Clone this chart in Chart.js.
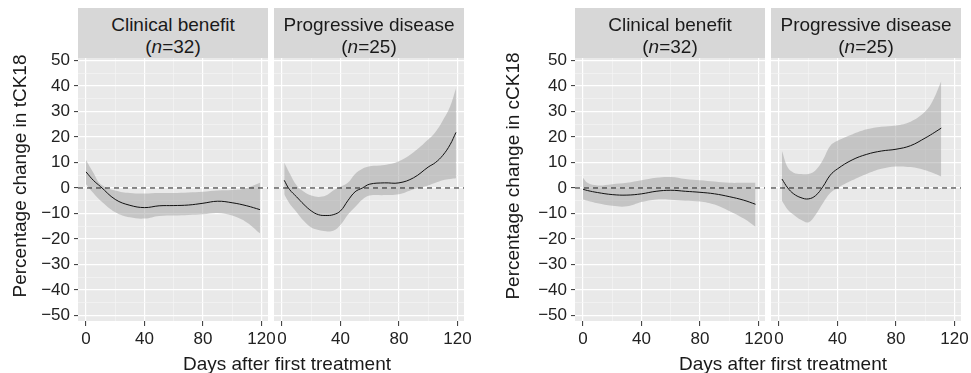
<!DOCTYPE html>
<html>
<head>
<meta charset="utf-8">
<script src="https://cdn.jsdelivr.net/npm/chart.js@4.4.1/dist/chart.umd.min.js"></script>
<style>
  body { margin: 0; background: #fff; font-family: "Liberation Sans", Arial, sans-serif; color: #1a1a1a; }
  #wrap { position: relative; width: 971px; height: 373px; overflow: hidden; }
  canvas { position: absolute; top: 0; }
  .strip { position: absolute; top: 8px; height: 50px; background: #d7d7d7; text-align: center;
           font-size: 19px; line-height: 22px; padding-top: 6px; box-sizing: border-box; }
  .xtitle { position: absolute; top: 353px; width: 300px; text-align: center; font-size: 19px; line-height: 22px; }
  .ytitle { position: absolute; width: 300px; height: 22px; line-height: 22px; text-align: center;
            font-size: 19px; transform: rotate(-90deg); }
</style>
</head>
<body>
<div id="wrap">
  <canvas id="tA"></canvas>
  <canvas id="tB"></canvas>
  <canvas id="cA"></canvas>
  <canvas id="cB"></canvas>

  <div class="strip" style="left:78px;width:190px">Clinical benefit<br>(<i>n</i>=32)</div>
  <div class="strip" style="left:274px;width:190px">Progressive disease<br>(<i>n</i>=25)</div>
  <div class="strip" style="left:575px;width:190px">Clinical benefit<br>(<i>n</i>=32)</div>
  <div class="strip" style="left:771px;width:190px">Progressive disease<br>(<i>n</i>=25)</div>

  <div class="ytitle" style="left:-130px;top:165px">Percentage change in tCK18</div>
  <div class="ytitle" style="left:363px;top:165px">Percentage change in cCK18</div>
  <div class="xtitle" style="left:137px">Days after first treatment</div>
  <div class="xtitle" style="left:633px">Days after first treatment</div>
</div>
<script>
// x axis: days after first treatment
const xMin = -5.5, xMax = 124.5;
const yMin = -52.2, yMax = 51;
const xTicks = [0, 20, 40, 60, 80, 100, 120];
const yTicks = [-50, -45, -40, -35, -30, -25, -20, -15, -10, -5, 0, 5, 10, 15, 20, 25, 30, 35, 40, 45, 50];

// tCK18, clinical benefit
const daysTA = [0, 5, 10, 20, 30, 40, 50, 60, 70, 80, 90, 100, 110, 119];
const fitTA  = [6.3, 3, 0.5, -4.5, -6.8, -7.7, -7, -6.9, -6.7, -6, -5.2, -5.8, -7, -8.5];
const hiTA   = [11, 6, 1.5, -1, -2, -2.2, -2, -2, -1.8, -1.5, -1, -0.8, 0, 2];
const loTA   = [1.5, -2, -5, -9.5, -11.5, -12, -11, -10.8, -10.6, -10.3, -9.8, -10.8, -13.5, -17.8];

// tCK18, progressive disease
const daysTB = [1.5, 5, 10, 15, 20, 25, 30, 35, 40, 45, 50, 55, 60, 70, 80, 90, 100, 105, 110, 115, 119];
const fitTB  = [3, -0.5, -3.5, -6.5, -9, -10.5, -10.8, -10.5, -9, -5, -1.5, 0, 1.5, 2, 2, 4, 8.2, 10, 12.8, 17, 21.8];
const hiTB   = [10, 6, 1, -1.5, -3, -3.5, -3, -1, 0.5, 2, 5.5, 7.5, 8.5, 9, 10.5, 14, 19, 22, 26.5, 32, 39];
const loTB   = [-2.5, -6, -9.5, -13, -15.5, -16.5, -17, -16.8, -14.5, -10.5, -7.5, -4.5, -3, -2.8, -2.5, -0.5, 1, 2, 3, 3.5, 3.8];

// cCK18, clinical benefit
const daysCA = [0, 3, 10, 20, 30, 40, 50, 60, 70, 80, 90, 100, 110, 118];
const fitCA  = [-0.5, -1, -1.8, -2.6, -2.8, -2.3, -1.3, -0.9, -1.3, -1.7, -2.3, -3.4, -4.8, -6.4];
const hiCA   = [4, 2, 1, 1.5, 2, 3, 4, 4.3, 3.5, 3, 2.5, 2, 2, 2];
const loCA   = [-4.5, -5, -6, -7, -7.2, -5.5, -4.5, -4.6, -5, -5.3, -6.5, -9, -12, -15.2];

// cCK18, progressive disease
const daysCB = [2, 6, 10, 15, 20, 25, 30, 35, 40, 50, 60, 70, 80, 90, 100, 105, 111];
const fitCB  = [3.5, 0, -2.3, -3.8, -4.3, -3, 0.5, 5, 7.5, 11, 13.2, 14.5, 15.2, 16.6, 19.6, 21.3, 23.5];
const hiCB   = [14.5, 8, 6, 5.5, 5.5, 7, 11, 16.5, 18.5, 21, 23, 24, 24.5, 26, 30, 34, 42];
const loCB   = [-5, -8.5, -10.5, -12.5, -13.5, -10.5, -6, -2, 0, 3, 5.5, 7.5, 8.4, 8.2, 7, 6, 4.5];

const panels = [
  { id: 'tA', areaLeft: 78,  areaRight: 268, yAxis: true,  days: daysTA, fit: fitTA, hi: hiTA, lo: loTA },
  { id: 'tB', areaLeft: 274, areaRight: 464, yAxis: false, days: daysTB, fit: fitTB, hi: hiTB, lo: loTB },
  { id: 'cA', areaLeft: 575, areaRight: 765, yAxis: true,  days: daysCA, fit: fitCA, hi: hiCA, lo: loCA },
  { id: 'cB', areaLeft: 771, areaRight: 961, yAxis: false, days: daysCB, fit: fitCB, hi: hiCB, lo: loCB }
];

const axisW = 78, padSide = 14, areaTop = 58, areaBottom = 321, H = 373;
const font = { family: '"Liberation Sans", Arial, sans-serif', size: 17 };

const panelBg = {
  id: 'panelBg',
  beforeDraw(chart) {
    const { ctx, chartArea: a } = chart;
    ctx.save();
    ctx.fillStyle = '#e9e9e9';
    ctx.fillRect(a.left, a.top, a.right - a.left, a.bottom - a.top);
    ctx.restore();
  }
};

function xy(days, vals) {
  return days.map((d, i) => ({ x: d, y: vals[i] }));
}

const gridColor = (ctx, major) => ctx.tick && ctx.tick.value % major === 0 ? '#ffffff' : '#f5f5f5';
const gridWidth = (ctx, major) => ctx.tick && ctx.tick.value % major === 0 ? 1.2 : 0.7;
const tickCol = (ctx, major) => ctx.tick && ctx.tick.value % major === 0 ? '#333333' : 'rgba(0,0,0,0)';

panels.forEach(p => {
  const cv = document.getElementById(p.id);
  const left = p.yAxis ? p.areaLeft - axisW : p.areaLeft - padSide;
  const width = p.areaRight + padSide - left;
  cv.width = width; cv.height = H;
  cv.style.left = left + 'px';
  cv.style.width = width + 'px'; cv.style.height = H + 'px';

  new Chart(cv, {
    type: 'line',
    data: {
      datasets: [
        { data: xy(p.days, p.fit), borderColor: '#111', borderWidth: 1, tension: 0.4, pointRadius: 0, fill: false },
        { data: [{ x: xMin, y: 0 }, { x: xMax, y: 0 }], borderColor: '#1a1a1a', borderWidth: 1,
          borderDash: [5, 4], pointRadius: 0, fill: false },
        { data: xy(p.days, p.hi), borderColor: 'rgba(0,0,0,0)', borderWidth: 0, tension: 0.4, pointRadius: 0,
          fill: '+1', backgroundColor: 'rgba(150,150,150,0.45)' },
        { data: xy(p.days, p.lo), borderColor: 'rgba(0,0,0,0)', borderWidth: 0, tension: 0.4, pointRadius: 0, fill: false }
      ]
    },
    options: {
      responsive: false,
      animation: false,
      events: [],
      layout: { padding: { top: areaTop, bottom: 0, left: p.yAxis ? 0 : padSide, right: padSide } },
      plugins: { legend: { display: false }, tooltip: { enabled: false } },
      scales: {
        x: {
          type: 'linear', min: xMin, max: xMax,
          afterBuildTicks: s => { s.ticks = xTicks.map(v => ({ value: v })); },
          afterFit: s => { s.height = H - areaBottom; },
          border: { display: false },
          grid: { color: c => gridColor(c, 40), lineWidth: c => gridWidth(c, 40),
                  tickColor: c => tickCol(c, 40), tickLength: 5, tickWidth: 1 },
          ticks: { autoSkip: false, maxRotation: 0, padding: 3, color: '#222', font,
                   callback: v => v % 40 === 0 ? String(v) : '' }
        },
        y: {
          type: 'linear', min: yMin, max: yMax,
          afterBuildTicks: s => { s.ticks = yTicks.map(v => ({ value: v })); },
          afterFit: s => { s.width = p.yAxis ? axisW : 0; },
          border: { display: false },
          grid: { color: c => gridColor(c, 10), lineWidth: c => gridWidth(c, 10),
                  tickColor: c => tickCol(c, 10), tickLength: 4, tickWidth: 1, drawTicks: p.yAxis },
          ticks: { display: p.yAxis, autoSkip: false, padding: 4, color: '#222', font,
                   callback: v => v % 10 === 0 ? String(v).replace('-', '\u2212') : '' }
        }
      }
    },
    plugins: [panelBg]
  });
});
</script>
</body>
</html>
